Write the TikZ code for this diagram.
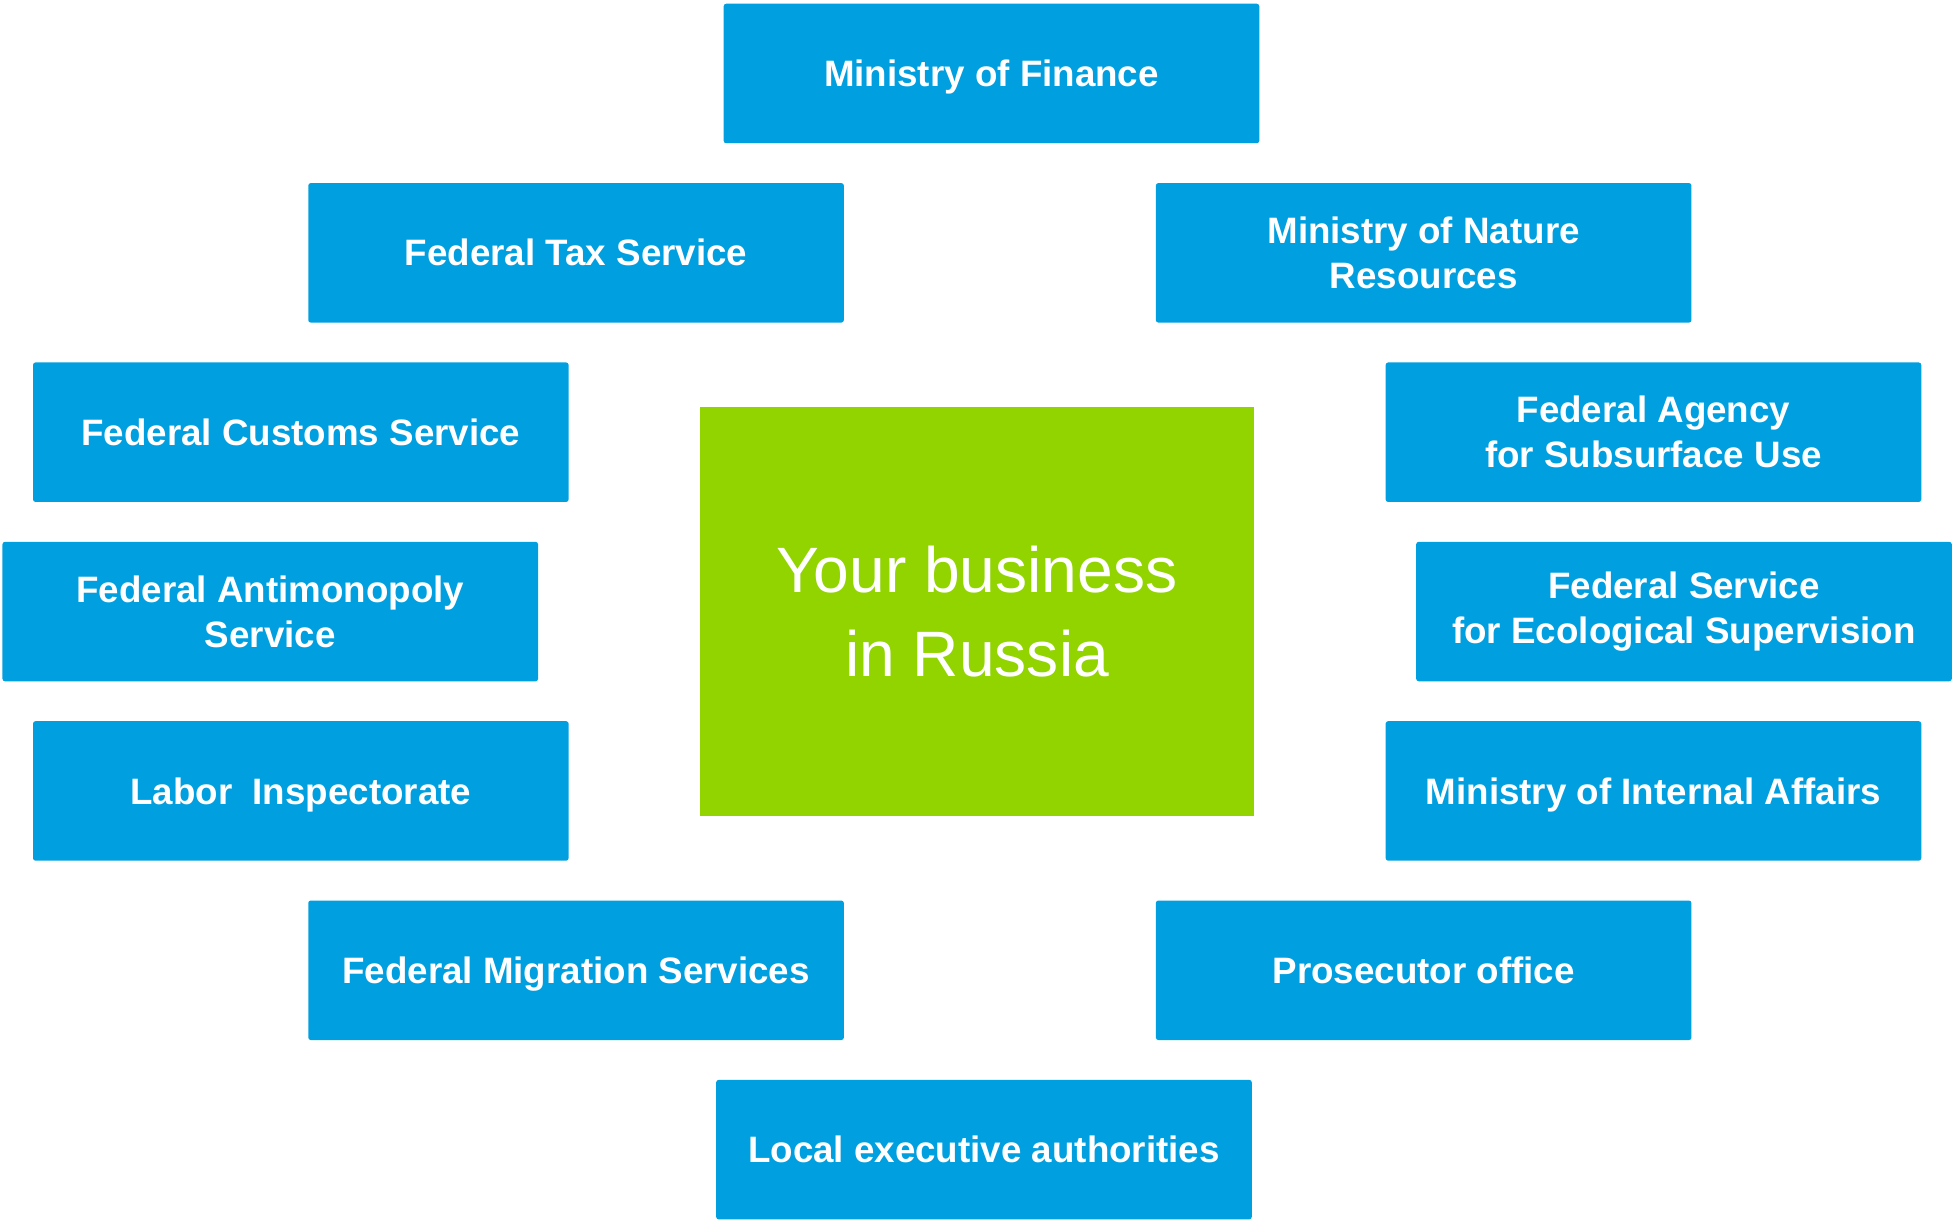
\documentclass[tikz,border=0pt]{standalone}
\usepackage{fontspec}
\setmainfont{Liberation Sans}
\usetikzlibrary{positioning}
\definecolor{agblue}{HTML}{009FDF}
\definecolor{bizgreen}{HTML}{92D400}

\begin{document}
\begin{tikzpicture}[
  x=1pt, y=-1pt,
  agency/.style={rectangle, rounded corners=2pt, fill=agblue, text=white, minimum width=430pt, minimum height=112pt, inner sep=0pt, font=\fontsize{29.5}{36}\selectfont\bfseries, align=center},
  oneline/.style={agency, text height=21pt, text depth=0pt},
  hub/.style={rectangle, fill=bizgreen, text=white, minimum width=445pt, minimum height=328pt, inner sep=0pt, font=\fontsize{51.5}{68}\selectfont, align=center},
]
\useasboundingbox (0,0) rectangle (1568,979);

\node[hub] (business) at (784.5,491) {Your business\\in Russia};

% top and bottom
\node[oneline] (finance) at (796,59) {Ministry of Finance};
\node[oneline] (local) at (790,923) {Local executive authorities};

% left column
\node[oneline] (tax) at (462.5,203) {Federal Tax Service};
\node[oneline] (customs) at (241.5,347) {Federal Customs Service};
\node[agency] (antimono) at (217,491) {Federal Antimonopoly\\Service};
\node[oneline] (labor) at (241.5,635) {Labor~\ Inspectorate};
\node[oneline] (migration) at (462.5,779) {Federal Migration Services};

% right column
\node[agency] (nature) at (1143,203) {Ministry of Nature\\Resources};
\node[agency] (subsoil) at (1327.5,347) {Federal Agency\\for Subsurface Use};
\node[agency] (ecology) at (1352,491) {Federal Service\\for Ecological Supervision};
\node[oneline] (interior) at (1327.5,635) {Ministry of Internal Affairs};
\node[oneline] (prosecutor) at (1143,779) {Prosecutor office};
\end{tikzpicture}
\end{document}
